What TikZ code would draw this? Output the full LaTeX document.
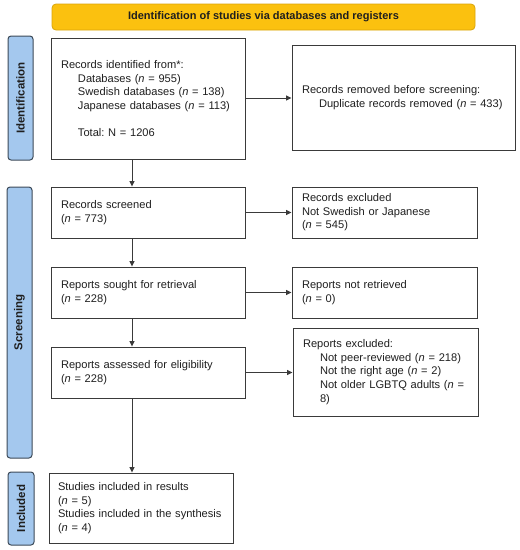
\documentclass[tikz,border=0pt]{standalone}
\usepackage{fontspec}
\setmainfont{Liberation Sans}
\usetikzlibrary{arrows.meta}
\definecolor{bannerfill}{HTML}{FBC10F}
\definecolor{bannerdraw}{HTML}{D9A40A}
\definecolor{sidefill}{HTML}{A4C8EE}
\definecolor{sidedraw}{HTML}{3C4A58}
\definecolor{boxdraw}{HTML}{3A3A3A}
\tikzset{
  x=1pt, y=-1pt,
  every node/.style={font=\fontsize{11.1}{13.6}\selectfont, text=black!88},
  box/.style={draw=boxdraw, line width=0.9pt, fill=white, inner xsep=10pt, inner ysep=0pt, align=left},
  side/.style={draw=sidedraw, line width=1pt, fill=sidefill, rounded corners=3pt, inner sep=0pt, rotate=90, font=\fontsize{11.5}{12}\selectfont\bfseries},
  arr/.style={draw=boxdraw, line width=0.9pt, -{Triangle[length=5.5pt,width=5pt]}},
}
\newcommand{\ind}{\hspace*{17pt}}
\frenchspacing
\begin{document}
\begin{tikzpicture}
\useasboundingbox (0,0) rectangle (520,550);
% banner
\node[draw=bannerdraw, fill=bannerfill, rounded corners=4pt, line width=0.8pt, minimum width=423pt, minimum height=26pt, inner sep=0pt, font=\fontsize{11}{12}\selectfont\bfseries] (banner) at (263.5,17) {Identification of studies via databases and registers};
% side labels
\node[side, minimum width=124pt, minimum height=25pt] (sid) at (20.5,98) {Identification};
\node[side, minimum width=271pt, minimum height=25pt] (sscr) at (19.5,322.5) {Screening};
\node[side, minimum width=73pt, minimum height=26pt] (sinc) at (21,508.5) {Included};
% boxes
\node[box, minimum width=194pt, minimum height=121pt, text width=174pt] (b1) at (148,98.5) {Records identified from*:\\
\ind Databases (\textit{n} = 955)\\
\ind \mbox{Swedish databases (\textit{n} = 138)}\\
\ind \mbox{Japanese databases (\textit{n} = 113)}\\[13.6pt]
\ind Total: N = 1206};
\node[box, minimum width=223pt, minimum height=105pt, text width=203pt] (b2) at (403.5,97.5) {\mbox{Records removed before screening:}\\
\ind \mbox{Duplicate records removed (\textit{n} = 433)}\\[2pt]};
\node[box, minimum width=194pt, minimum height=51pt, text width=174pt] (b3) at (148,212.5) {Records screened\\(\textit{n} = 773)\\[5pt]};
\node[box, minimum width=185pt, minimum height=51pt, text width=165pt] (b4) at (384.5,212.5) {Records excluded\\\mbox{Not Swedish or Japanese}\\(\textit{n} = 545)};
\node[box, minimum width=194pt, minimum height=51pt, text width=174pt] (b5) at (148,292.5) {\mbox{Reports sought for retrieval}\\(\textit{n} = 228)\\[2pt]};
\node[box, minimum width=185pt, minimum height=51pt, text width=165pt] (b6) at (384.5,292.5) {Reports not retrieved\\(\textit{n} = 0)\\[2pt]};
\node[box, minimum width=194pt, minimum height=51pt, text width=174pt] (b7) at (148,372.5) {\mbox{Reports assessed for eligibility}\\(\textit{n} = 228)\\[6pt]};
\node[box, minimum width=185pt, minimum height=88pt, text width=165pt] (b8) at (385.5,372) {Reports excluded:\\
\ind \mbox{Not peer-reviewed (\textit{n} = 218)}\\
\ind \mbox{Not the right age (\textit{n} = 2)}\\
\ind \mbox{Not older LGBTQ adults (\textit{n} =}\\
\ind 8)\\[4pt]};
\node[box, minimum width=184pt, minimum height=70pt, text width=166pt, inner xsep=9pt] (b9) at (141,508) {\mbox{Studies included in results}\\(\textit{n} = 5)\\\mbox{Studies included in the synthesis}\\(\textit{n} = 4)\\[2pt]};
% arrows
\draw[arr] (b1.east |- 0,98) -- (b2.west |- 0,98);
\draw[arr] (b1.south -| 132,0) -- (b3.north -| 132,0);
\draw[arr] (b3.east) -- (b4.west);
\draw[arr] (b3.south -| 132,0) -- (b5.north -| 132,0);
\draw[arr] (b5.east) -- (b6.west);
\draw[arr] (b5.south -| 132,0) -- (b7.north -| 132,0);
\draw[arr] (b7.east) -- (b8.west |- b7.east);
\draw[arr] (b7.south -| 132,0) -- (b9.north -| 132,0);
\end{tikzpicture}
\end{document}
